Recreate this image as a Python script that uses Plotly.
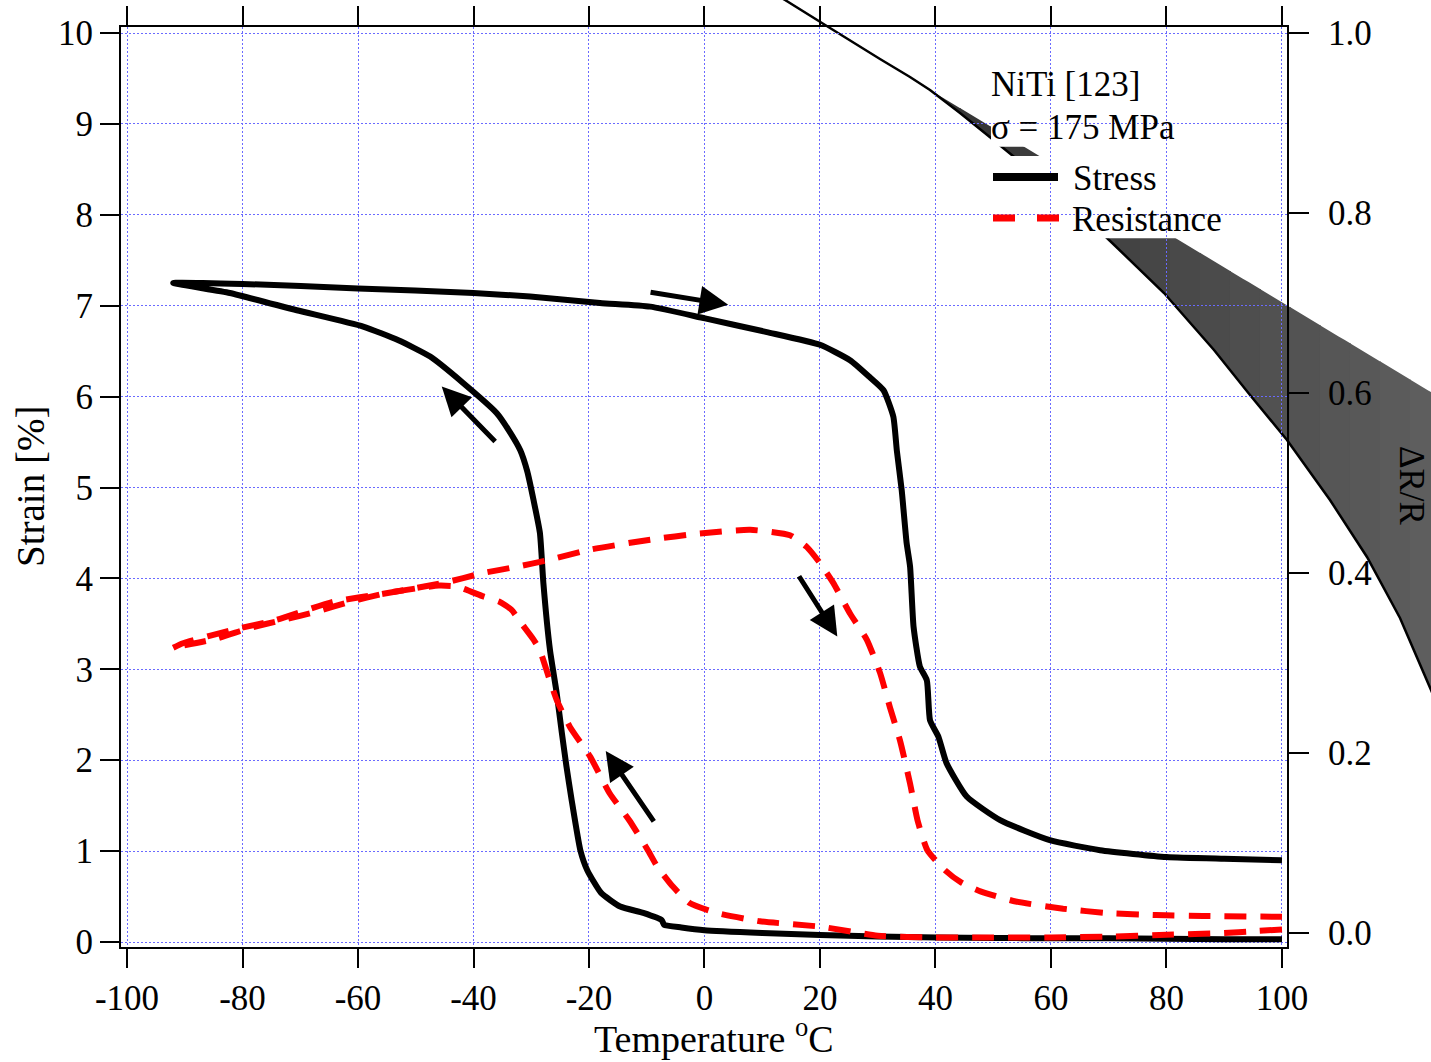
import numpy as np
import plotly.graph_objects as go

# ---------------- data ----------------
# Strain loop (left axis): cooling branch from 100 C down to -92 C, then heating back to 100 C
stress_temp = [100, 90, 80, 70, 60, 50, 40.3, 30, 20, 10, 0, -4, -7.0, -7.4, -10.6, -14.6, -17.9,
               -20.3, -21.5, -23.0, -23.9, -24.7, -25.6, -26.75, -27.9, -28.5, -29.6, -30.7,
               -31.9, -34.0, -36.0, -41.8, -47.5, -53.0, -59.1, -70.6, -82.2, -92.0,
               -80, -60, -40, -30.2, -18.1, -9.4, 0.1, 10.8, 20.0, 25.2, 28.5, 31.0, 32.7,
               33.3, 34.15, 35.0, 35.6, 36.2, 37.3, 38.5, 39.05, 40.5, 41.9, 45.4, 51.2,
               59.8, 68.5, 80, 90, 100]
stress_strain = [0.03, 0.03, 0.035, 0.04, 0.04, 0.045, 0.05, 0.06, 0.077, 0.10, 0.13, 0.16, 0.19,
                 0.24, 0.32, 0.39, 0.54, 0.79, 1.01, 1.56, 1.93, 2.30, 2.74, 3.21, 3.95, 4.50,
                 4.86, 5.18, 5.41, 5.64, 5.82, 6.15, 6.44, 6.62, 6.77, 6.95, 7.14, 7.25,
                 7.24, 7.19, 7.14, 7.10, 7.03, 6.99, 6.86, 6.71, 6.57, 6.40, 6.22, 6.07, 5.78,
                 5.41, 4.97, 4.39, 4.13, 3.47, 3.03, 2.88, 2.44, 2.26, 1.97, 1.60, 1.34,
                 1.12, 1.01, 0.935, 0.915, 0.90]

# Resistance change (right axis): heating branch from -92 C, then cooling branch from 100 C
res_temp = [-92.0, -90.3, -81.6, -74.1, -64.3, -55.6, -45.2, -38.3, -32.5, -27.3, -19.8, -9.4,
            -0.8, 7.9, 14.8, 17.7, 20.0, 22.3, 25.2, 28.1, 30.4, 32.1, 33.85, 35.6, 36.9,
            38.6, 41.6, 44.5, 47.9, 53.9, 62.1, 70.1, 78.2, 86.3, 100,
            None,
            100, 95, 90, 80, 70, 60, 50, 40, 30, 20.1, 9.6, 2.3, -2.5, -5.4, -8.2, -9.8, -13.0,
            -16.4, -19.8, -23.3, -25.6, -27.0, -28.5, -29.6, -31.7, -33.4, -35.5, -38.3,
            -42.9, -46.0, -49.8, -55.6, -61.4, -67.2, -72.9, -78.7, -84.5, -91.4]
res_dRR = [0.317, 0.322, 0.337, 0.348, 0.368, 0.377, 0.389, 0.400, 0.407, 0.414, 0.426, 0.437,
           0.444, 0.448, 0.442, 0.429, 0.411, 0.389, 0.355, 0.326, 0.289, 0.251, 0.214, 0.166,
           0.125, 0.092, 0.070, 0.056, 0.046, 0.035, 0.027, 0.022, 0.020, 0.019, 0.018,
           None,
           0.004, 0.002, 0.000, -0.002, -0.004, -0.005, -0.005, -0.005, -0.003, 0.007, 0.013,
           0.022, 0.033, 0.051, 0.074, 0.092, 0.125, 0.155, 0.196, 0.229, 0.259, 0.285, 0.314,
           0.326, 0.344, 0.359, 0.368, 0.374, 0.385, 0.386, 0.383, 0.377, 0.368, 0.357, 0.348,
           0.339, 0.327, 0.318]

temp_ticks = [-100, -80, -60, -40, -20, 0, 20, 40, 60, 80, 100]
temp_labels = ["-100", "-80", "-60", "-40", "-20", "0", "20", "40", "60", "80", "100"]
strain_ticks = [0, 1, 2, 3, 4, 5, 6, 7, 8, 9, 10]
drr_ticks = [0.0, 0.2, 0.4, 0.6, 0.8, 1.0]
drr_labels = ["0.0", "0.2", "0.4", "0.6", "0.8", "1.0"]

# ---------------- page geometry ----------------
W, H = 1431, 1062
ML, MR, MT, MB = 121, 144, 27, 115
PW = W - ML - MR
PH = H - MT - MB
FONT = "Liberation Serif, Times New Roman, serif"
FS = 35


def pp(x, y):
    """page pixel -> paper fraction"""
    return (x - ML) / PW, (H - MB - y) / PH


def path_from(points, close=False):
    s = ""
    for i, (x, y) in enumerate(points):
        px_, py_ = pp(x, y)
        s += ("M" if i == 0 else "L") + f"{px_:.5f},{py_:.5f} "
    if close:
        s += "Z"
    return s


fig = go.Figure()

fig.add_trace(go.Scatter(
    x=stress_temp, y=stress_strain, mode="lines", name="Stress",
    line=dict(color="black", width=6, shape="spline", smoothing=0.5),
    yaxis="y", showlegend=False,
))
fig.add_trace(go.Scatter(
    x=res_temp, y=res_dRR, mode="lines", name="Resistance", connectgaps=False,
    line=dict(color="#ff0000", width=6, dash="22px,14px", shape="spline", smoothing=0.5),
    yaxis="y2", showlegend=False,
))

shapes = []

# dark band crossing the upper right corner (overlay curve)
edge_x = [930, 960, 991, 1013, 1060, 1107, 1164, 1214, 1250, 1287, 1330, 1367, 1400, 1431, 1450, 1470]
edge_y = [90, 113, 138, 156, 196, 238, 293, 350, 395, 440, 500, 557, 618, 690, 735, 785]


def upper(x):
    return 90 + 0.603 * (x - 930)


n_strips = 18
x_start, x_end = 930.0, 1470.0
step = (x_end - x_start) / n_strips
for i in range(n_strips):
    a = x_start + i * step
    b = min(a + step + 1.0, x_end)
    xs = np.linspace(a, b, 6)
    top = [(x, upper(x)) for x in xs]
    bot = [(x, float(np.interp(x, edge_x, edge_y))) for x in xs[::-1]]
    g = int(0x33 + (0x62 - 0x33) * (i + 0.5) / n_strips)
    shapes.append(dict(type="path", xref="paper", yref="paper", layer="below",
                       path=path_from(top + bot, close=True),
                       fillcolor=f"rgb({g},{g},{g})", line=dict(width=0)))

thin_x = [770, 785, 830, 880, 910] + edge_x
thin_y = [-9, 0, 28, 59, 77] + edge_y
shapes.append(dict(type="path", xref="paper", yref="paper", layer="below",
                   path=path_from(list(zip(thin_x, thin_y))),
                   line=dict(color="black", width=2.5)))

# white panels behind the legend text
for (x0, y0, x1, y1) in [(991, 106, 1185, 146.7), (991, 156, 1230, 238.3)]:
    a0, b0 = pp(x0, y1)
    a1, b1 = pp(x1, y0)
    shapes.append(dict(type="rect", xref="paper", yref="paper", layer="below",
                       x0=a0, y0=b0, x1=a1, y1=b1, fillcolor="white", line=dict(width=0)))

# legend samples
lx0, ly0 = pp(993, 177)
lx1, _ = pp(1058, 177)
shapes.append(dict(type="line", xref="paper", yref="paper", x0=lx0, x1=lx1, y0=ly0, y1=ly0,
                   line=dict(color="black", width=8)))
rx0, ry0 = pp(993, 218)
rx1, _ = pp(1059, 218)
shapes.append(dict(type="line", xref="paper", yref="paper", x0=rx0, x1=rx1, y0=ry0, y1=ry0,
                   line=dict(color="#ff0000", width=7, dash="22px,22px")))

annotations = []


def text_at(x, y, txt, xanchor="left", angle=0, size=FS):
    ax_, ay_ = pp(x, y)
    annotations.append(dict(xref="paper", yref="paper", x=ax_, y=ay_, text=txt, showarrow=False,
                            xanchor=xanchor, yanchor="middle", textangle=angle,
                            font=dict(family=FONT, size=size, color="black")))


text_at(989, 84, "NiTi [123]")
text_at(989, 127, "σ = 175 MPa")
text_at(1071, 178, "Stress")
text_at(1070, 219, "Resistance")
text_at(30, 487, "Strain [%]", xanchor="center", angle=-90, size=39)
text_at(1411, 486, "ΔR/R", xanchor="center", angle=90)
text_at(714, 1036, "Temperature <sup>o</sup>C", xanchor="center", size=38)

# direction arrows (head, tail) in data units
arrows = [((4.1, 7.01), (-9.6, 7.15)),
          ((-45.5, 6.11), (-36.0, 5.49)),
          ((23.0, 3.36), (16.2, 4.04)),
          ((-17.1, 2.10), (-8.6, 1.31))]
for (hx, hy), (tx, ty) in arrows:
    annotations.append(dict(x=hx, y=hy, ax=tx, ay=ty, xref="x", yref="y", axref="x", ayref="y",
                            text="", showarrow=True, arrowhead=2, arrowsize=1.15,
                            arrowwidth=5, arrowcolor="black", standoff=0))

axis_common = dict(
    showline=True, linecolor="black", linewidth=2,
    ticks="outside", tickwidth=2, tickcolor="black",
    zeroline=False, automargin=False,
    tickfont=dict(family=FONT, size=FS, color="black"),
)

fig.update_layout(
    width=W, height=H, autosize=False,
    margin=dict(l=ML, r=MR, t=MT, b=MB, pad=0, autoexpand=False),
    paper_bgcolor="white", plot_bgcolor="white",
    showlegend=False,
    xaxis=dict(range=[-101.04, 100.87], tickvals=temp_ticks, ticktext=temp_labels,
               mirror="ticks", ticklen=19, showgrid=True, gridcolor="#6a6aff", gridwidth=1,
               griddash="2px,2px", **axis_common),
    yaxis=dict(range=[-0.055, 10.066], tickvals=strain_ticks, ticklen=19,
               showgrid=True, gridcolor="#6a6aff", gridwidth=1, griddash="2px,2px",
               **axis_common),
    yaxis2=dict(range=[-0.01556, 1.00667], tickvals=drr_ticks, ticktext=drr_labels,
                overlaying="y", side="right", ticklen=20, ticklabelstandoff=12,
                showgrid=False, **axis_common),
    shapes=shapes,
    annotations=annotations,
)

fig.write_html("out.html", config={"displayModeBar": False})
